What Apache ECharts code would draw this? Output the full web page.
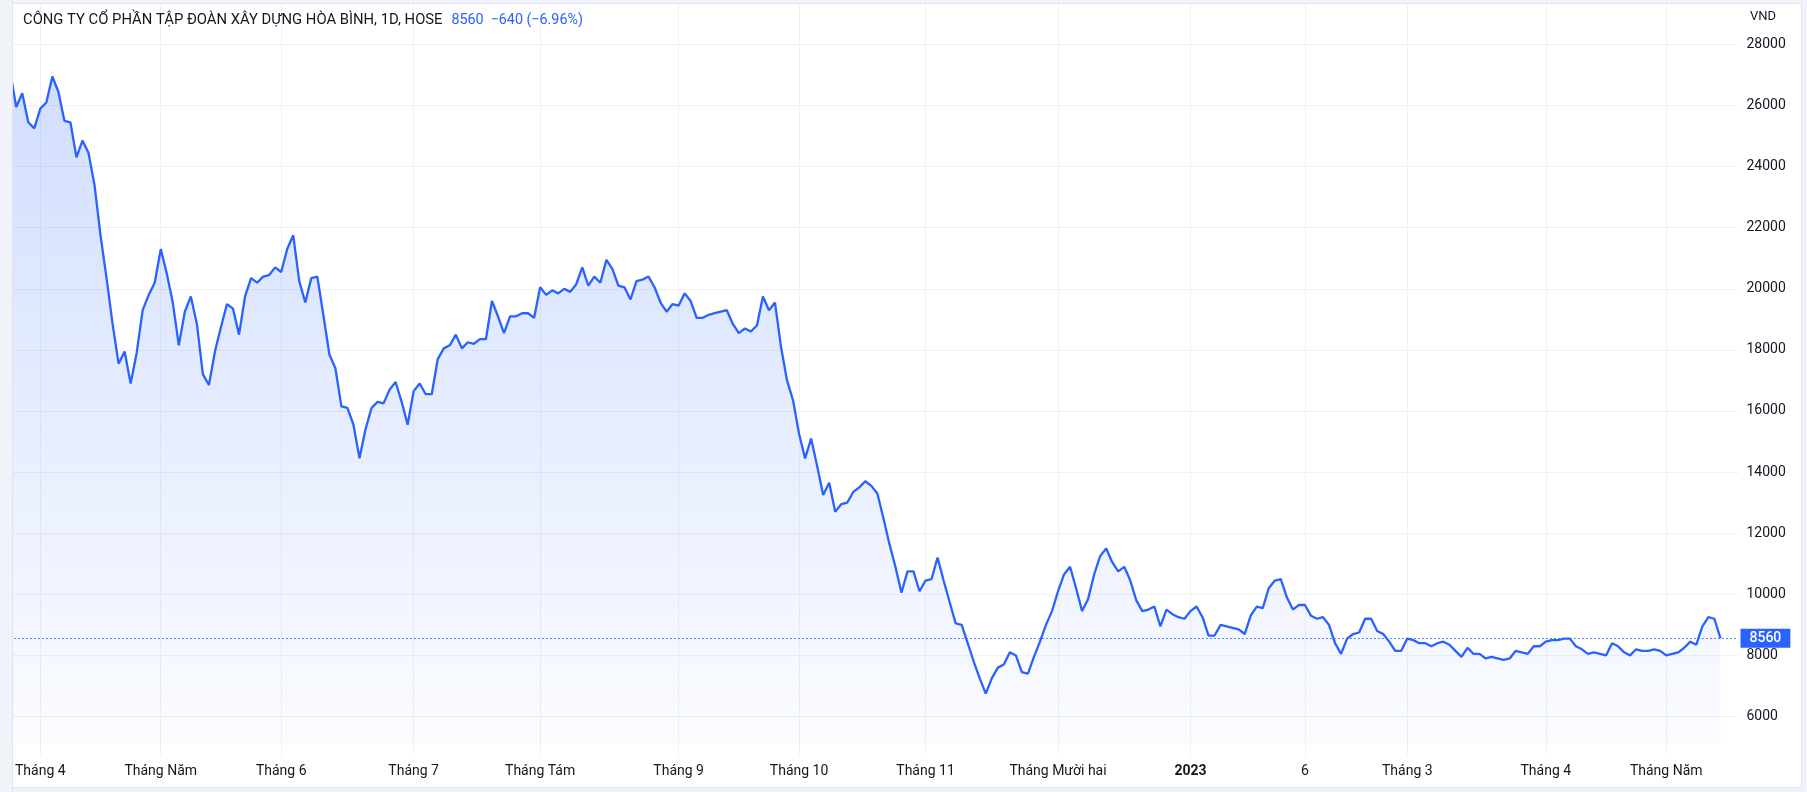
<!DOCTYPE html>
<html>
<head>
<meta charset="utf-8">
<script src="https://cdn.jsdelivr.net/npm/echarts@6/dist/echarts.min.js"></script>
<style>
  html, body { margin: 0; padding: 0; background: #f0f3fa; }
  #box { position: absolute; left: 11px; top: 3px; width: 1791px; height: 785px; background: #ffffff; border: 1px solid #e0e3eb; box-sizing: border-box; }
  #chart { position: absolute; left: 0; top: 0; width: 1807px; height: 792px; }
  #maskL { position: absolute; left: 0; top: 0; width: 12px; height: 792px; background: #f0f3fa; border-right: 1px solid #e0e3eb; z-index: 5; }
</style>
</head>
<body>
<div id="box"></div>
<div id="chart"></div>
<div id="maskL"></div>
<script>
// Daily closes (VND), HBC on HOSE, late Mar 2022 -> mid May 2023, grouped by month
const closeMar2022 = [27100, 25950, 26400, 25450, 25250];
const closeApr2022 = [25900, 26100, 26950, 26450, 25500, 25450, 24300, 24850, 24450, 23400, 21750, 20350, 18850, 17550, 17950, 16900, 17900, 19300, 19800, 20200];
const closeMay2022 = [21300, 20500, 19550, 18150, 19250, 19750, 18850, 17200, 16850, 17950, 18750, 19500, 19350, 18500, 19750, 20350, 20200, 20400, 20450, 20700];
const closeJun2022 = [20550, 21300, 21750, 20250, 19550, 20350, 20400, 19150, 17850, 17400, 16150, 16100, 15550, 14450, 15400, 16100, 16300, 16250, 16700, 16950, 16300, 15550];
const closeJul2022 = [16650, 16900, 16550, 16550, 17700, 18050, 18150, 18500, 18050, 18250, 18200, 18350, 18350, 19600, 19100, 18550, 19100, 19100, 19200, 19200, 19050];
const closeAug2022 = [20050, 19800, 19950, 19850, 20000, 19900, 20150, 20700, 20100, 20400, 20200, 20950, 20650, 20100, 20050, 19650, 20250, 20300, 20400, 20050, 19550, 19250, 19500];
const closeSep2022 = [19450, 19850, 19600, 19050, 19050, 19150, 19200, 19250, 19300, 18850, 18550, 18700, 18600, 18800, 19750, 19300, 19550, 18100, 17000, 16350];
const closeOct2022 = [15250, 14450, 15100, 14200, 13250, 13650, 12700, 12950, 13000, 13350, 13500, 13700, 13550, 13300, 12500, 11650, 10900, 10050, 10750, 10750, 10100];
const closeNov2022 = [10450, 10500, 11200, 10450, 9750, 9050, 9000, 8400, 7800, 7250, 6750, 7250, 7600, 7700, 8100, 8000, 7450, 7400, 7950, 8450, 9000, 9450];
const closeDec2022 = [10100, 10650, 10900, 10200, 9450, 9850, 10650, 11250, 11500, 11050, 10750, 10900, 10450, 9800, 9450, 9500, 9600, 8950, 9500, 9350, 9250, 9200];
const closeJan2023 = [9450, 9600, 9250, 8650, 8650, 9000, 8950, 8900, 8850, 8700, 9300, 9600, 9550, 10200, 10450, 10500, 9900, 9500, 9650];
const closeFeb2023 = [9650, 9300, 9200, 9250, 9000, 8400, 8050, 8550, 8700, 8750, 9200, 9200, 8800, 8700, 8450, 8150, 8150];
const closeMar2023 = [8550, 8500, 8400, 8400, 8300, 8400, 8450, 8350, 8150, 7950, 8250, 8050, 8050, 7900, 7950, 7900, 7850, 7900, 8150, 8100, 8050, 8300, 8300];
const closeApr2023 = [8450, 8500, 8500, 8550, 8550, 8300, 8200, 8050, 8100, 8050, 8000, 8400, 8300, 8100, 8000, 8200, 8150, 8150, 8200, 8150];
const closeMay2023 = [8000, 8050, 8100, 8250, 8450, 8350, 8950, 9250, 9200, 8560];

// Time-axis tick labels and the trading-day index where each falls
const tickIndex = [5, 25, 45, 67, 88, 111, 131, 152, 174, 196, 215, 232, 255, 275];
const tickText = ['Tháng 4', 'Tháng Năm', 'Tháng 6', 'Tháng 7', 'Tháng Tám', 'Tháng 9', 'Tháng 10', 'Tháng 11', 'Tháng Mười hai', '2023', '6', 'Tháng 3', 'Tháng 4', 'Tháng Năm'];

// Price-axis range visible in the pane
const priceMin = 4740;
const priceMax = 29322;
const lastPrice = 8560;
const titleText = 'CÔNG TY CỔ PHẦN TẬP ĐOÀN XÂY DỰNG HÒA BÌNH, 1D, HOSE';
const quoteText = ['8560', '−640 (−6.96%)'];
const emptyRightSlots = 3;

const closes = [].concat(closeMar2022, closeApr2022, closeMay2022, closeJun2022, closeJul2022,
  closeAug2022, closeSep2022, closeOct2022, closeNov2022, closeDec2022, closeJan2023,
  closeFeb2023, closeMar2023, closeApr2023, closeMay2023);
const categories = [];
for (let i = 0; i < closes.length + emptyRightSlots; i++) categories.push(String(i));
const tickSet = new Set(tickIndex);
const isTick = (idx) => tickSet.has(idx);

const FONT = 'Roboto';
const TXT = '#131722';
const GRIDC = '#eff1f5';
const BLUE = '#2962ff';

const chart = echarts.init(document.getElementById('chart'), null, { renderer: 'canvas' });
chart.setOption({
  animation: false,
  backgroundColor: 'transparent',
  title: [{
    left: 23, top: 11, padding: 0,
    text: '{n|' + titleText + '}{g|}{v|' + quoteText[0] + '}{g2|}{v|' + quoteText[1] + '}',
    textStyle: {
      fontWeight: 'normal',
      rich: {
        n: { fontFamily: FONT, fontSize: 14.8, fontWeight: 'normal', color: TXT },
        g: { width: 9 },
        g2: { width: 7 },
        v: { fontFamily: FONT, fontSize: 14.3, fontWeight: 'normal', color: BLUE }
      }
    }
  }, {
    left: 1750, top: 10, padding: 0,
    text: 'VND',
    textStyle: { fontFamily: FONT, fontSize: 13, fontWeight: 'normal', color: TXT }
  }],
  grid: { left: 10.2, right: 68.5, top: 4, bottom: 37, containLabel: false },
  xAxis: {
    type: 'category',
    data: categories,
    boundaryGap: false,
    axisLine: { show: false },
    axisTick: { show: false, interval: isTick },
    axisLabel: {
      interval: isTick,
      margin: 9,
      fontFamily: FONT, fontSize: 14, color: TXT,
      formatter: (v) => {
        const k = tickIndex.indexOf(Number(v));
        if (k < 0) return '';
        const t = tickText[k];
        return /^\d{4}$/.test(t) ? '{b|' + t + '}' : t;
      },
      rich: { b: { fontFamily: FONT, fontSize: 14, fontWeight: 'bold', color: TXT } }
    },
    splitLine: { show: true, interval: isTick, lineStyle: { color: GRIDC, width: 1 } }
  },
  yAxis: {
    type: 'value',
    position: 'right',
    min: priceMin,
    max: priceMax,
    minInterval: 2000,
    maxInterval: 2000,
    splitNumber: 12,
    axisLine: { show: false },
    axisTick: { show: false },
    axisLabel: {
      margin: 8, fontFamily: FONT, fontSize: 14, color: TXT,
      showMinLabel: false, showMaxLabel: false,
      formatter: (v) => (v % 2000 === 0 ? String(v) : '')
    },
    splitLine: { show: true, showMinLine: false, showMaxLine: false, lineStyle: { color: GRIDC, width: 1 } }
  },
  series: [{
    type: 'line',
    data: closes,
    symbol: 'none',
    smooth: false,
    clip: true,
    lineStyle: { color: BLUE, width: 2.3 },
    itemStyle: { color: BLUE },
    areaStyle: {
      origin: 5100,
      color: new echarts.graphic.LinearGradient(0, 0, 0, 1, [
        { offset: 0, color: 'rgba(41,98,255,0.30)' },
        { offset: 1, color: 'rgba(41,98,255,0.03)' }
      ])
    },
    markLine: {
      silent: true,
      symbol: ['none', 'none'],
      animation: false,
      lineStyle: { color: BLUE, type: [1.5, 2.5], width: 1 },
      label: {
        show: true, position: 'end', distance: 2,
        formatter: String(lastPrice),
        backgroundColor: BLUE, color: '#ffffff',
        fontFamily: FONT, fontSize: 14, fontWeight: 500,
        padding: [3, 9, 2, 9]
      },
      emphasis: { disabled: true },
      data: [{ yAxis: lastPrice }]
    }
  }]
});
</script>
</body>
</html>
